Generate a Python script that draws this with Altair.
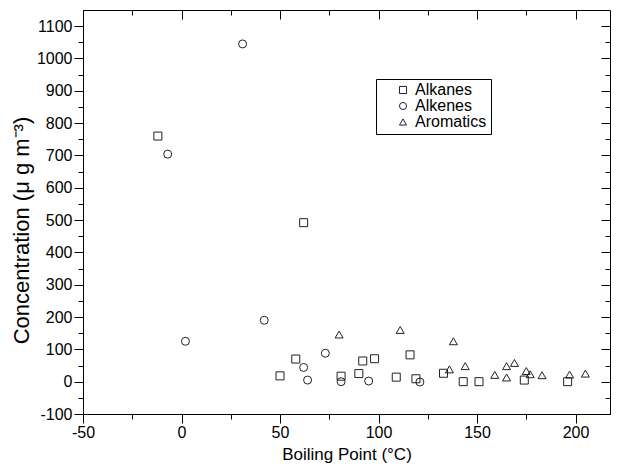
import altair as alt
import pandas as pd

# ---- data ----
alkanes_bp = [-12, 50, 58, 62, 81, 90, 92, 98, 109, 116, 119, 133, 143, 151, 174, 196]
alkanes_c = [760, 18, 70, 492, 17, 25, 64, 71, 14, 83, 9, 26, 0, 0, 5, 0]
alkenes_bp = [-7, 2, 31, 42, 62, 64, 73, 81, 95, 121]
alkenes_c = [704, 125, 1045, 190, 44, 5, 88, 0, 2, -1]
aromatics_bp = [80, 111, 136, 138, 144, 159, 165, 165, 169, 175, 177, 183, 197, 205]
aromatics_c = [146, 160, 38, 125, 48, 21, 48, 13, 58, 33, 23, 20, 22, 25]

groups = ["Alkanes", "Alkenes", "Aromatics"]
shapes = ["square", "circle", "triangle-up"]

x_major = [-50, 0, 50, 100, 150, 200]
x_minor = [-25, 25, 75, 125, 175]
y_major = [-100, 0, 100, 200, 300, 400, 500, 600, 700, 800, 900, 1000, 1100]
y_minor = [-50, 50, 150, 250, 350, 450, 550, 650, 750, 850, 950, 1050]

rows = []
for g, bps, cs in zip(groups, [alkanes_bp, alkenes_bp, aromatics_bp],
                      [alkanes_c, alkenes_c, aromatics_c]):
    for b, c in zip(bps, cs):
        rows.append({"bp": b, "conc": c, "group": g})
df = pd.DataFrame(rows)

W, H = 527, 404
FONT = "Liberation Sans"

xscale = alt.Scale(domain=[-50, 217.5], nice=False, zero=False)
yscale = alt.Scale(domain=[-100, 1150], nice=False, zero=False)

base_axis = dict(grid=False, domain=False, tickColor="black", tickWidth=1,
                 labelFont=FONT, titleFont=FONT, labelColor="black",
                 titleColor="black", labelFlush=False, labelOverlap=False)

main = alt.Chart(df).mark_point(filled=False, size=64, strokeWidth=1, opacity=1).encode(
    x=alt.X("bp:Q", scale=xscale,
            axis=alt.Axis(orient="bottom", values=x_major, tickSize=9,
                          labelFontSize=16, labelPadding=1,
                          labelExpr="'' + datum.value",
                          title="Boiling Point (°C)", titleFontSize=17,
                          titleFontWeight="normal", titleY=45,
                          titleBaseline="alphabetic", **base_axis)),
    y=alt.Y("conc:Q", scale=yscale,
            axis=alt.Axis(orient="left", values=y_major, tickSize=9,
                          labelFontSize=16, labelPadding=2,
                          labelExpr="'' + datum.value",
                          title="Concentration (μ g m⁻³)", titleFontSize=22,
                          titleFontWeight="normal", titleX=-55, titleY=220,
                          titleBaseline="alphabetic", **base_axis)),
    shape=alt.Shape("group:N", scale=alt.Scale(domain=groups, range=shapes),
                    legend=alt.Legend(title=None, orient="none", legendX=293, legendY=69,
                                      strokeColor="black", padding=4, symbolOffset=15,
                                      labelFontSize=16, labelFont=FONT, labelColor="black",
                                      symbolSize=50, symbolStrokeColor="#222",
                                      symbolStrokeWidth=1, symbolFillColor="white",
                                      rowPadding=0, clipHeight=14, labelOffset=4)),
    color=alt.value("#222"),
)


def axis_layer(xaxis, yaxis):
    return alt.Chart(df).mark_point(opacity=0).encode(
        x=alt.X("bp:Q", scale=xscale, axis=xaxis),
        y=alt.Y("conc:Q", scale=yscale, axis=yaxis),
    )


minor_bl = axis_layer(
    alt.Axis(orient="bottom", values=x_minor, tickSize=5, labels=False, title=None, **base_axis),
    alt.Axis(orient="left", values=y_minor, tickSize=5, labels=False, title=None, **base_axis),
)
major_tr = axis_layer(
    alt.Axis(orient="bottom", offset=-H, values=x_major, tickSize=9, labels=False, title=None, **base_axis),
    alt.Axis(orient="left", offset=-W, values=y_major, tickSize=9, labels=False, title=None, **base_axis),
)
minor_tr = axis_layer(
    alt.Axis(orient="bottom", offset=-H, values=x_minor, tickSize=5, labels=False, title=None, **base_axis),
    alt.Axis(orient="left", offset=-W, values=y_minor, tickSize=5, labels=False, title=None, **base_axis),
)

chart = alt.layer(main, minor_bl, major_tr, minor_tr).resolve_axis(
    x="independent", y="independent"
).properties(
    width=W, height=H, autosize="none",
    padding={"left": 75, "top": 2, "right": 1, "bottom": 49},
    background="white",
).configure_view(stroke="black", strokeWidth=1)

chart.save("out.html", embed_options={"renderer": "svg", "actions": False})
